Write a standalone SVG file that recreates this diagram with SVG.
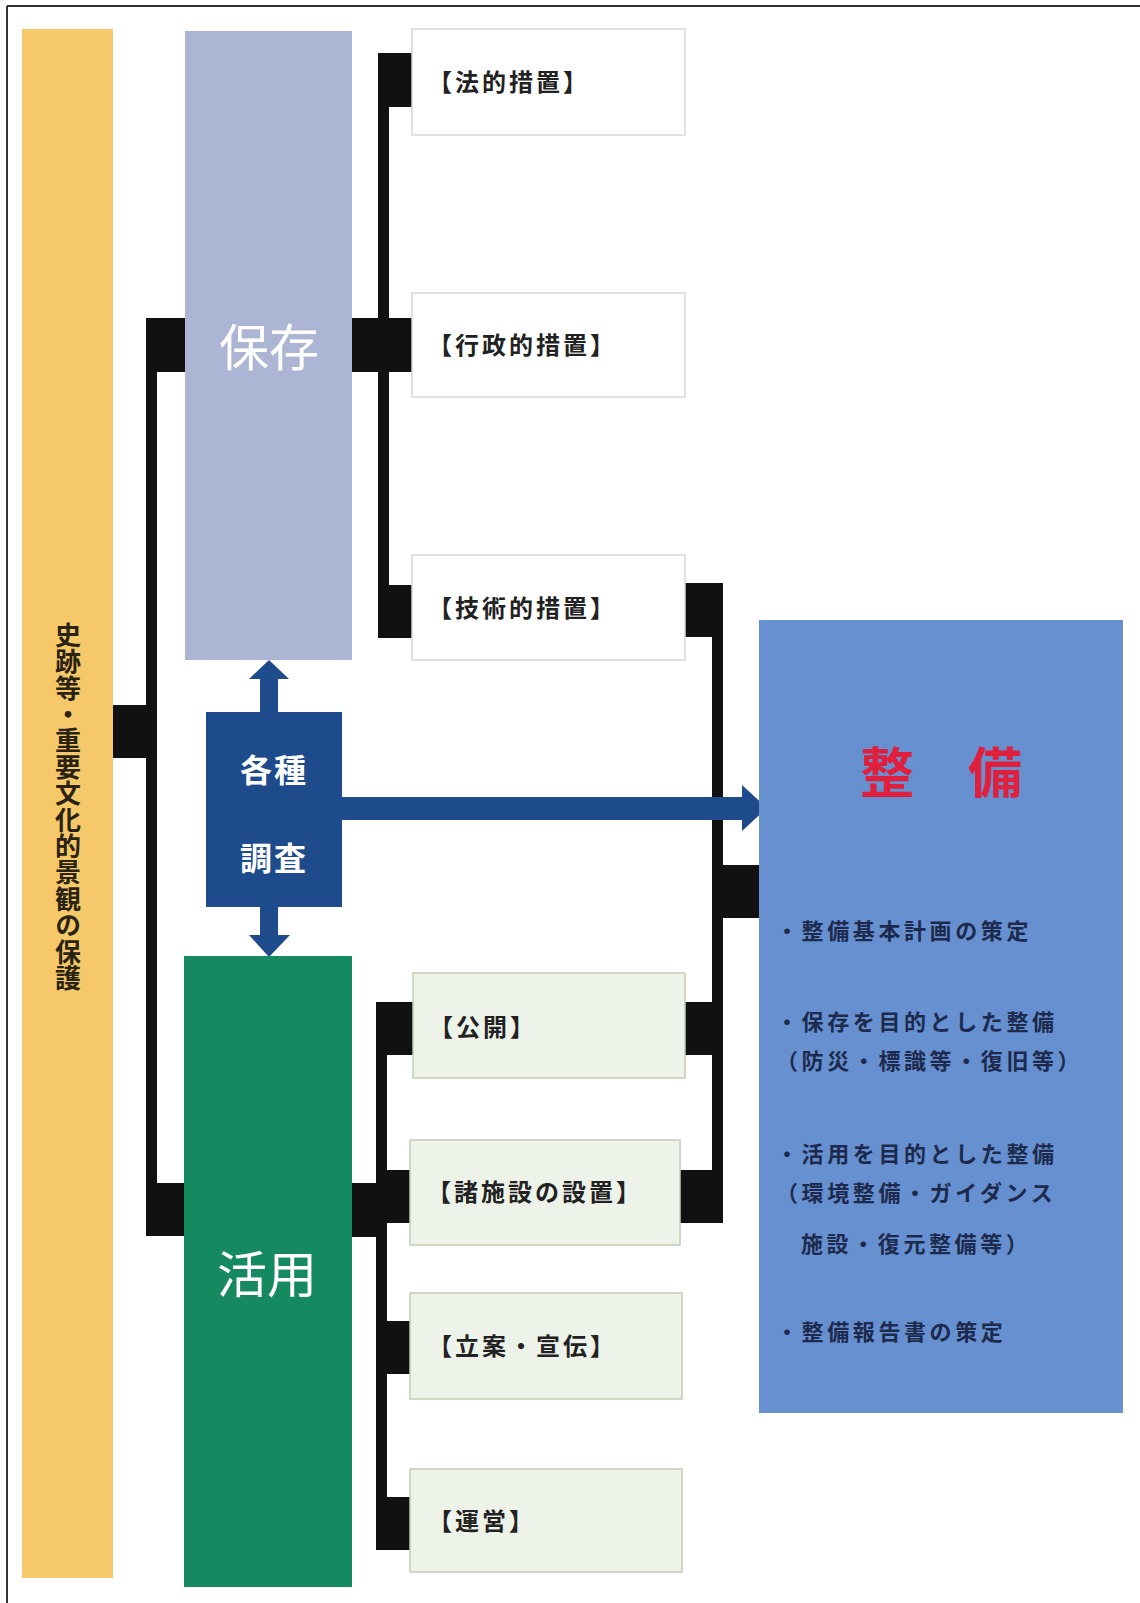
<svg xmlns="http://www.w3.org/2000/svg" width="1140" height="1603" viewBox="0 0 1140 1603">
<style>
text{font-family:"Noto Sans CJK JP","Noto Sans",sans-serif}
.bw{fill:#ffffff;stroke:#d8d8d8;stroke-width:1.5}
.bg{fill:#eef3ea;stroke:#c3ccb2;stroke-width:1.5}
.lbl{font-size:24px;font-weight:700;letter-spacing:3px;fill:#222}
.big{font-size:50px;fill:#ffffff}
.body{font-size:22px;font-weight:700;letter-spacing:3.6px;fill:#1d2a4e}
.blk{fill:#111}
.arr{fill:#1e4b8c}
</style>
<rect width="1140" height="1603" fill="#ffffff"/>
<g id="frame" stroke="#333" stroke-width="2" fill="none">
<line x1="7" y1="6" x2="1140" y2="6"/>
<line x1="7" y1="6" x2="7" y2="1603"/>
</g>
<g id="connectors">
<rect class="blk" x="113" y="705" width="42" height="53"/>
<rect class="blk" x="146" y="318" width="11" height="918"/>
<rect class="blk" x="146" y="318" width="40" height="54"/>
<rect class="blk" x="146" y="1183" width="40" height="53"/>
<rect class="blk" x="378" y="53" width="11" height="585"/>
<rect class="blk" x="378" y="53" width="34" height="54"/>
<rect class="blk" x="352" y="318" width="60" height="54"/>
<rect class="blk" x="378" y="585" width="34" height="53"/>
<rect class="blk" x="376" y="1002" width="11" height="548"/>
<rect class="blk" x="376" y="1002" width="37" height="53"/>
<rect class="blk" x="352" y="1183" width="30" height="54"/>
<rect class="blk" x="376" y="1170" width="34" height="53"/>
<rect class="blk" x="376" y="1321" width="34" height="53"/>
<rect class="blk" x="376" y="1497" width="34" height="53"/>
<rect class="blk" x="685" y="583" width="38" height="54"/>
<rect class="blk" x="712" y="583" width="11" height="640"/>
<rect class="blk" x="712" y="865" width="47" height="53"/>
<rect class="blk" x="685" y="1002" width="38" height="53"/>
<rect class="blk" x="680" y="1170" width="43" height="53"/>
<rect class="arr" x="260" y="676" width="18" height="38"/>
<polygon class="arr" points="249,679 289,679 269,660"/>
<rect class="arr" x="260" y="905" width="18" height="32"/>
<polygon class="arr" points="249,935 290,935 269,957"/>
<rect class="arr" x="340" y="797" width="404" height="23"/>
<polygon class="arr" points="742,785 742,831 767,808"/>
</g>
<g id="node-shiseki">
<rect x="22" y="29" width="91" height="1549" fill="#f5c869"/>
<text x="68" y="622" font-size="26" font-weight="700" fill="#2a2212" writing-mode="tb" letter-spacing="0.4">史跡等・重要文化的景観の保護</text>
</g>
<g id="node-hozon">
<rect x="185" y="31" width="167" height="629" fill="#adb5d5"/>
<text class="big" x="269" y="366" text-anchor="middle">保存</text>
</g>
<g id="node-katsuyo">
<rect x="184" y="956" width="168" height="631" fill="#15895f"/>
<text class="big" x="267" y="1293" text-anchor="middle">活用</text>
</g>
<g id="node-chosa">
<rect x="206" y="712" width="136" height="195" fill="#1e4b8c"/>
<text x="274" y="782" text-anchor="middle" font-size="32" font-weight="700" letter-spacing="2" fill="#ffffff">各種</text>
<text x="274" y="870" text-anchor="middle" font-size="32" font-weight="700" letter-spacing="2" fill="#ffffff">調査</text>
</g>
<g id="node-hoteki">
<rect class="bw" x="412" y="29" width="273" height="106"/>
<text class="lbl" x="428" y="91">【法的措置】</text>
</g>
<g id="node-gyosei">
<rect class="bw" x="412" y="293" width="273" height="104"/>
<text class="lbl" x="428" y="354">【行政的措置】</text>
</g>
<g id="node-gijutsu">
<rect class="bw" x="412" y="555" width="273" height="105"/>
<text class="lbl" x="428" y="617">【技術的措置】</text>
</g>
<g id="node-kokai">
<rect class="bg" x="413" y="973" width="272" height="105"/>
<text class="lbl" x="429" y="1036">【公開】</text>
</g>
<g id="node-shisetsu">
<rect class="bg" x="410" y="1140" width="270" height="105"/>
<text class="lbl" x="427" y="1201">【諸施設の設置】</text>
</g>
<g id="node-rian">
<rect class="bg" x="410" y="1293" width="272" height="106"/>
<text class="lbl" x="428" y="1355">【立案・宣伝】</text>
</g>
<g id="node-unei">
<rect class="bg" x="410" y="1469" width="272" height="103"/>
<text class="lbl" x="428" y="1530">【運営】</text>
</g>
<g id="node-seibi">
<rect x="759" y="620" width="364" height="793" fill="#6690cf"/>
<text x="941" y="793" text-anchor="middle" font-size="54" font-weight="700" fill="#e01f3d">整　備</text>
<text class="body" x="776" y="939">・整備基本計画の策定</text>
<text class="body" x="776" y="1030">・保存を目的とした整備</text>
<text class="body" x="776" y="1069">（防災・標識等・復旧等）</text>
<text class="body" x="776" y="1162">・活用を目的とした整備</text>
<text class="body" x="776" y="1201">（環境整備・ガイダンス</text>
<text class="body" x="801" y="1252">施設・復元整備等）</text>
<text class="body" x="776" y="1340">・整備報告書の策定</text>
</g>
</svg>
